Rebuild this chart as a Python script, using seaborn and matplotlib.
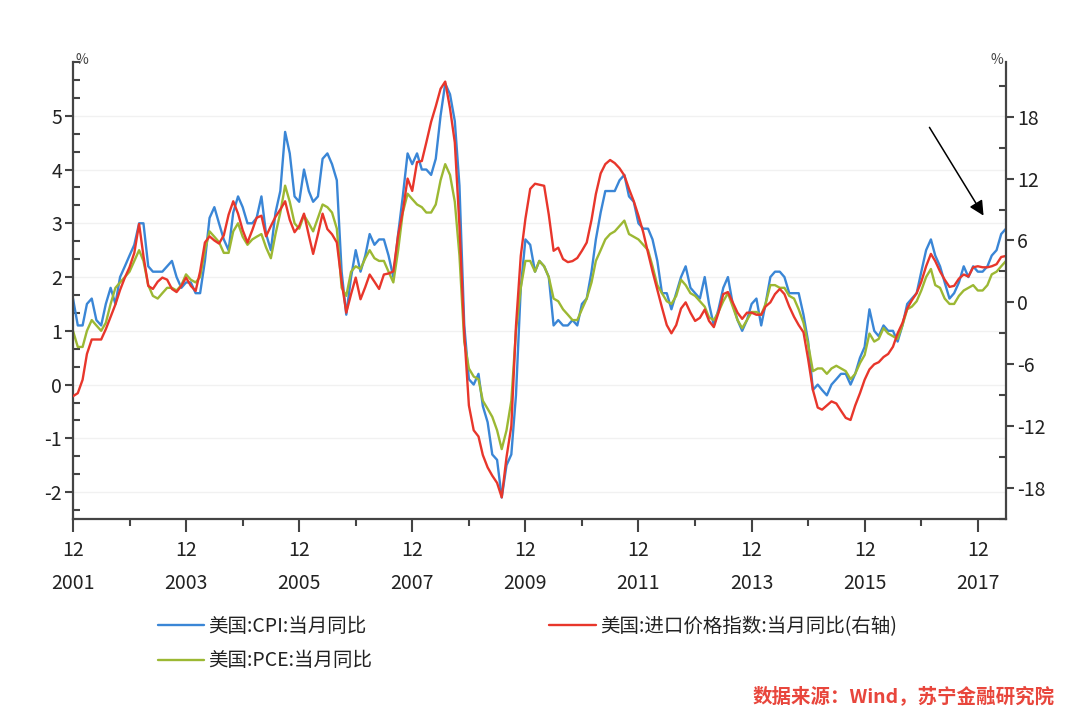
import pandas as pd
import matplotlib.pyplot as plt
from matplotlib.ticker import MultipleLocator
import seaborn as sns

# monthly, Dec 2001 .. Jun 2018
months = pd.date_range('2001-12-01', periods=199, freq='MS')

# US CPI yoy (%), left axis
cpi = [1.6,
       1.1, 1.1, 1.5, 1.6, 1.2, 1.1, 1.5, 1.8, 1.5, 2.0, 2.2, 2.4,
       2.6, 3.0, 3.0, 2.2, 2.1, 2.1, 2.1, 2.2, 2.3, 2.0, 1.8, 1.9,
       1.9, 1.7, 1.7, 2.3, 3.1, 3.3, 3.0, 2.7, 2.5, 3.2, 3.5, 3.3,
       3.0, 3.0, 3.1, 3.5, 2.8, 2.5, 3.2, 3.6, 4.7, 4.3, 3.5, 3.4,
       4.0, 3.6, 3.4, 3.5, 4.2, 4.3, 4.1, 3.8, 2.1, 1.3, 2.0, 2.5,
       2.1, 2.4, 2.8, 2.6, 2.7, 2.7, 2.4, 2.0, 2.8, 3.5, 4.3, 4.1,
       4.3, 4.0, 4.0, 3.9, 4.2, 5.0, 5.6, 5.4, 4.9, 3.7, 1.1, 0.1,
       0.0, 0.2, -0.4, -0.7, -1.3, -1.4, -2.1, -1.5, -1.3, -0.2, 1.8, 2.7,
       2.6, 2.1, 2.3, 2.2, 2.0, 1.1, 1.2, 1.1, 1.1, 1.2, 1.1, 1.5,
       1.6, 2.1, 2.7, 3.2, 3.6, 3.6, 3.6, 3.8, 3.9, 3.5, 3.4, 3.0,
       2.9, 2.9, 2.7, 2.3, 1.7, 1.7, 1.4, 1.7, 2.0, 2.2, 1.8, 1.7,
       1.6, 2.0, 1.5, 1.1, 1.4, 1.8, 2.0, 1.5, 1.2, 1.0, 1.2, 1.5,
       1.6, 1.1, 1.5, 2.0, 2.1, 2.1, 2.0, 1.7, 1.7, 1.7, 1.3, 0.8,
       -0.1, 0.0, -0.1, -0.2, 0.0, 0.1, 0.2, 0.2, 0.0, 0.2, 0.5, 0.7,
       1.4, 1.0, 0.9, 1.1, 1.0, 1.0, 0.8, 1.1, 1.5, 1.6, 1.7, 2.1,
       2.5, 2.7, 2.4, 2.2, 1.9, 1.6, 1.7, 1.9, 2.2, 2.0, 2.2, 2.1,
       2.1, 2.2, 2.4, 2.5, 2.8, 2.9]

# US PCE yoy (%), left axis
pce = [1.0,
       0.7, 0.7, 1.0, 1.2, 1.1, 1.0, 1.15, 1.5, 1.8, 1.9, 2.0, 2.1,
       2.3, 2.5, 2.3, 1.85, 1.65, 1.6, 1.7, 1.8, 1.8, 1.75, 1.85, 2.05,
       1.95, 1.9, 2.0, 2.5, 2.85, 2.75, 2.65, 2.45, 2.45, 2.85, 3.0, 2.75,
       2.6, 2.7, 2.75, 2.8, 2.55, 2.35, 2.8, 3.2, 3.7, 3.4, 3.0, 2.9,
       3.15, 3.0, 2.85, 3.1, 3.35, 3.3, 3.2, 2.9, 1.8, 1.65, 2.1, 2.2,
       2.15, 2.35, 2.5, 2.35, 2.3, 2.3, 2.1, 1.9, 2.5, 3.2, 3.55, 3.45,
       3.35, 3.3, 3.2, 3.2, 3.35, 3.8, 4.1, 3.9, 3.4, 2.4, 0.8, 0.3,
       0.15, 0.1, -0.3, -0.45, -0.6, -0.85, -1.2, -0.85, -0.3, 1.0, 1.8, 2.3,
       2.3, 2.1, 2.3, 2.2, 2.0, 1.6, 1.55, 1.4, 1.3, 1.2, 1.2, 1.4,
       1.6, 1.9, 2.3, 2.5, 2.7, 2.8, 2.85, 2.95, 3.05, 2.8, 2.75, 2.7,
       2.6, 2.5, 2.2, 1.85, 1.7, 1.55, 1.5, 1.65, 1.95, 1.85, 1.7, 1.65,
       1.55, 1.45, 1.25, 1.2, 1.35, 1.55, 1.7, 1.45, 1.2, 1.05, 1.2, 1.35,
       1.35, 1.3, 1.5, 1.85, 1.85, 1.8, 1.8, 1.65, 1.6, 1.4, 1.15, 0.75,
       0.25, 0.3, 0.3, 0.2, 0.3, 0.35, 0.3, 0.25, 0.1, 0.2, 0.4, 0.55,
       0.95, 0.8, 0.85, 1.05, 0.95, 0.9, 0.85, 1.1, 1.4, 1.45, 1.55, 1.75,
       2.0, 2.15, 1.85, 1.8, 1.6, 1.5, 1.5, 1.65, 1.75, 1.8, 1.85, 1.75,
       1.75, 1.85, 2.05, 2.1, 2.2, 2.3]

# US import price index yoy (%), right axis
import_px = [-9.1,
             -8.8, -7.5, -5.0, -3.6, -3.6, -3.6, -2.6, -1.4, -0.2, 1.2, 2.4, 3.4,
             4.8, 7.6, 4.5, 1.6, 1.3, 2.0, 2.4, 2.2, 1.3, 1.0, 1.6, 2.4,
             1.6, 1.1, 3.0, 5.8, 6.4, 6.0, 5.7, 6.5, 8.5, 9.8, 8.6, 7.0,
             5.8, 7.0, 8.2, 8.4, 6.4, 7.4, 8.3, 9.0, 9.8, 8.0, 6.8, 7.4,
             8.6, 6.5, 4.7, 6.6, 8.6, 7.1, 6.6, 5.8, 2.0, -1.0, 0.8, 2.4,
             0.3, 1.5, 2.7, 2.0, 1.3, 2.7, 2.8, 3.0, 6.5, 8.8, 12.0, 10.8,
             13.6, 13.7, 15.5, 17.5, 19.0, 20.7, 21.4, 18.8, 15.5, 7.4, -3.0, -10.0,
             -12.4, -13.0, -14.8, -16.0, -16.8, -17.5, -18.9, -15.0, -12.0, -2.3, 4.5, 8.1,
             11.0, 11.5, 11.4, 11.3, 8.5, 5.0, 5.3, 4.2, 3.9, 4.0, 4.3, 5.0,
             5.8, 8.0, 10.5, 12.5, 13.4, 13.8, 13.5, 13.0, 12.3, 11.0, 9.8, 8.4,
             6.8, 4.8, 3.0, 1.2, -0.5, -2.2, -3.0, -2.2, -0.6, 0.0, -1.0, -1.8,
             -1.5, -0.7, -1.8, -2.4, -1.0, 0.8, 1.0, 0.0, -1.0, -1.6, -1.0, -1.0,
             -1.2, -1.2, -0.4, 0.0, 0.8, 1.3, 0.8, -0.4, -1.4, -2.2, -2.9, -5.5,
             -8.5, -10.2, -10.4, -10.0, -9.6, -9.8, -10.5, -11.2, -11.4, -10.0, -8.8, -7.5,
             -6.5, -6.0, -5.8, -5.3, -5.0, -4.3, -3.0, -2.0, -0.6, 0.2, 0.9, 2.0,
             3.5, 4.7, 4.0, 3.0, 2.2, 1.5, 1.6, 2.3, 2.7, 2.5, 3.4, 3.5,
             3.4, 3.4, 3.5, 3.7, 4.4, 4.5]

tick_years = [2001, 2003, 2005, 2007, 2009, 2011, 2013, 2015, 2017]
minor_years = [2002, 2004, 2006, 2008, 2010, 2012, 2014, 2016]
left_ticks = [-2, -1, 0, 1, 2, 3, 4, 5]
right_ticks = [-18, -12, -6, 0, 6, 12, 18]

names = ['美国:CPI:当月同比', '美国:PCE:当月同比', '美国:进口价格指数:当月同比(右轴)']
colors = ['#3a86d6', '#9cb833', '#e8362b']

sns.set_style('ticks')
plt.rcParams['font.family'] = ['Noto Sans CJK SC', 'DejaVu Sans']
plt.rcParams['axes.unicode_minus'] = False

df = pd.DataFrame({'date': months, 'cpi': cpi, 'pce': pce, 'imp': import_px})

fig = plt.figure(figsize=(10.8, 7.15), dpi=100)
ax = fig.add_axes([73 / 1080, 1 - 519 / 715, 933 / 1080, 457 / 715])
ax2 = ax.twinx()

sns.lineplot(data=df, x='date', y='cpi', ax=ax, color=colors[0], lw=1.7)
sns.lineplot(data=df, x='date', y='pce', ax=ax, color=colors[1], lw=1.7)
sns.lineplot(data=df, x='date', y='imp', ax=ax2, color=colors[2], lw=1.7)

ax.set_xlim(months[0], months[-1])
ax.set_ylim(-2.5, 6.0)
ax2.set_ylim(-21.0, 23.3)
for a in (ax, ax2):
    a.set_xlabel('')
    a.set_ylabel('')

# x axis: "12" over the year
ax.set_xticks([pd.Timestamp(f'{y}-12-01') for y in tick_years])
ax.set_xticklabels([f'12\n{y}' for y in tick_years], linespacing=1.75)
ax.set_xticks([pd.Timestamp(f'{y}-12-01') for y in minor_years], minor=True)

ax.set_yticks(left_ticks)
ax.yaxis.set_minor_locator(MultipleLocator(1 / 3))
ax2.set_yticks(right_ticks)
ax2.yaxis.set_minor_locator(MultipleLocator(3))

ax.grid(axis='y', which='major', color='#f1f1f1', lw=1)

spine_c = '#444444'
ax.spines['top'].set_visible(False)
ax.spines['right'].set_visible(False)
for s in ('top', 'left', 'bottom'):
    ax2.spines[s].set_visible(False)
for s in (ax.spines['left'], ax.spines['bottom'], ax2.spines['right']):
    s.set_color(spine_c)
    s.set_linewidth(1.6)

ax.tick_params(axis='y', which='major', direction='out', length=6, width=1.5,
               colors=spine_c, labelcolor='#222222', labelsize=14, pad=2)
ax.tick_params(axis='y', which='minor', direction='in', length=5, width=1.5, colors=spine_c)
ax2.tick_params(axis='y', which='major', direction='out', length=6, width=1.5,
                colors=spine_c, labelcolor='#222222', labelsize=14, pad=2)
ax2.tick_params(axis='y', which='minor', direction='in', length=5, width=1.5, colors=spine_c)
ax.tick_params(axis='x', which='major', direction='out', length=9, width=1.5,
               colors=spine_c, labelcolor='#222222', labelsize=14, pad=6)
ax.tick_params(axis='x', which='minor', direction='out', length=5, width=1.5, colors=spine_c)

fig.text(82 / 1080, 1 - 60 / 715, '%', fontsize=10, color='#444444', ha='center', va='center')
fig.text(997 / 1080, 1 - 60 / 715, '%', fontsize=10, color='#444444', ha='center', va='center')

# legend below the plot
handles = ax.get_lines()[:2] + ax2.get_lines()[:1]
leg = fig.legend(handles, names, loc='upper left', ncol=2, frameon=False,
                 bbox_to_anchor=(150 / 1080, 1 - 608 / 715), borderaxespad=0,
                 fontsize=14, handlelength=2.4, handletextpad=0.2,
                 columnspacing=9.1, labelspacing=0.7)
for t in leg.get_texts():
    t.set_color('#222222')

fig.text(1055 / 1080, 1 - 697 / 715, '数据来源：Wind，苏宁金融研究院', fontsize=14,
         color='#e8463c', ha='right', va='center', weight='bold')

ax.annotate('', xy=(985 / 1080, 1 - 218 / 715), xycoords='figure fraction',
            xytext=(928 / 1080, 1 - 125 / 715), textcoords='figure fraction',
            arrowprops=dict(arrowstyle='-|>', color='black', lw=1.1, mutation_scale=22))

fig.savefig('out.png', dpi=100)
